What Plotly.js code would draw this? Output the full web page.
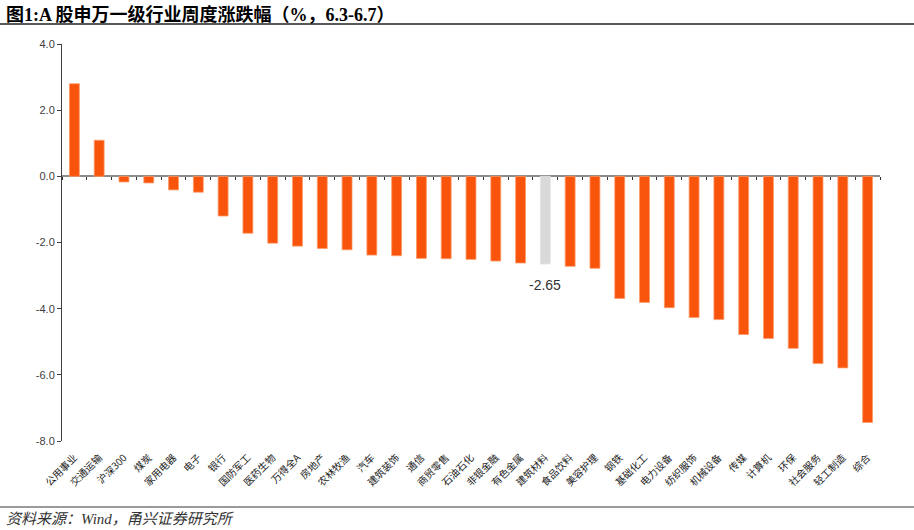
<!DOCTYPE html>
<html>
<head>
<meta charset="utf-8">
<script src="https://cdn.plot.ly/plotly-3.0.1.min.js"></script>
<style>html,body{margin:0;padding:0;background:#fff;}#chart{width:914px;height:530px;}</style>
</head>
<body>
<div id="chart"></div>
<script>
const categories = ["公用事业","交通运输","沪深300","煤炭","家用电器","电子","银行","国防军工","医药生物","万得全A","房地产","农林牧渔","汽车","建筑装饰","通信","商贸零售","石油石化","非银金融","有色金属","建筑材料","食品饮料","美容护理","钢铁","基础化工","电力设备","纺织服饰","机械设备","传媒","计算机","环保","社会服务","轻工制造","综合"];
const values = [2.80,1.09,-0.17,-0.20,-0.41,-0.48,-1.20,-1.72,-2.02,-2.11,-2.18,-2.22,-2.38,-2.40,-2.48,-2.49,-2.51,-2.56,-2.62,-2.65,-2.72,-2.78,-3.69,-3.81,-3.97,-4.27,-4.33,-4.78,-4.90,-5.20,-5.66,-5.79,-7.44];
const highlight = "建筑材料";
const yTicks = [-8,-6,-4,-2,0,2,4];
const yTickText = ["-8.0","-6.0","-4.0","-2.0","0.0","2.0","4.0"];
const titleText = "<b>图1:A 股申万一级行业周度涨跌幅（%，6.3-6.7）</b>";
const sourceText = "<i>资料来源：Wind，甬兴证券研究所</i>";

const orange = "#F9540B", grey = "#D9D9D9";
const colors = categories.map(c => c === highlight ? grey : orange);
const lineColors = categories.map(c => c === highlight ? "#E4E4E4" : "#FB9A6A");
const hi = categories.indexOf(highlight);

const traces = [
  {type:"bar", x:categories, y:values, marker:{color:colors, line:{color:lineColors, width:0.8}}, hoverinfo:"x+y", showlegend:false},
  {type:"bar", x:categories, y:categories.map(()=>null), xaxis:"x2", yaxis:"y", showlegend:false, hoverinfo:"skip"}
];

const cjk = "Liberation Serif, Noto Sans CJK SC, serif";
const layout = {
  width:914, height:530,
  margin:{l:62, r:34, t:44, b:89},
  paper_bgcolor:"#fff", plot_bgcolor:"#fff",
  bargap:0.6,
  showlegend:false,
  xaxis:{type:"category", range:[-0.5, categories.length-0.5], showline:false, ticks:"", tickangle:-45, ticklabelstandoff:8,
    tickfont:{family:"Noto Sans CJK SC, sans-serif", size:10, color:"#222"}, showgrid:false, zeroline:false, fixedrange:true},
  xaxis2:{type:"category", overlaying:"x", anchor:"free", position:8/12, range:[-0.5, categories.length-0.5],
    showline:false, ticks:"outside", ticklen:3, tickwidth:1, tickcolor:"#333", tickson:"boundaries",
    showticklabels:false, showgrid:false, zeroline:false, side:"bottom"},
  yaxis:{range:[-8,4], tickvals:yTicks, ticktext:yTickText, showline:true, linecolor:"#404040", linewidth:1,
    ticks:"outside", ticklen:4, tickcolor:"#404040", showgrid:false, zeroline:true, zerolinecolor:"#8C8C8C", zerolinewidth:2,
    tickfont:{family:"Liberation Sans, Arial, sans-serif", size:11, color:"#404040"}},
  annotations:[
    {text:titleText, xref:"paper", yref:"paper", x:-58/818, y:1+ (44-14)/397, xanchor:"left", yanchor:"middle", showarrow:false,
      font:{family:cjk, size:18, color:"#000"}},
    {text:sourceText, xref:"paper", yref:"paper", x:-58/818, y:-(519-441)/397, xanchor:"left", yanchor:"middle", showarrow:false,
      font:{family:cjk, size:15, color:"#333"}},
    {text:values[hi].toFixed(2), x:categories[hi], y:values[hi], xref:"x", yref:"y", yanchor:"top", yshift:-11, showarrow:false,
      font:{family:"Liberation Sans, Arial, sans-serif", size:14, color:"#333"}}
  ],
  shapes:[
    {type:"line", xref:"paper", yref:"paper", x0:-62/818, x1:(914-62)/818, y0:1+(44-24)/397, y1:1+(44-24)/397, line:{color:"#222", width:1.5}},
    {type:"line", xref:"paper", yref:"paper", x0:-62/818, x1:(914-62)/818, y0:-(507-441)/397, y1:-(507-441)/397, line:{color:"#9A9A9A", width:2}}
  ]
};
Plotly.newPlot("chart", traces, layout, {staticPlot:true, displayModeBar:false});
</script>
</body>
</html>
